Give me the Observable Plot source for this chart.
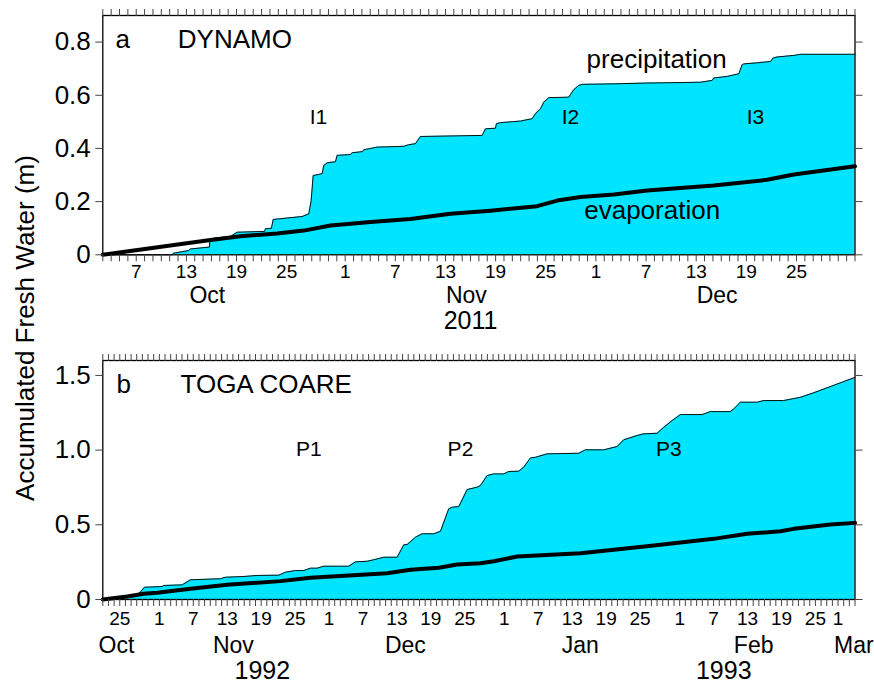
<!DOCTYPE html>
<html><head><meta charset="utf-8">
<script src="https://cdn.jsdelivr.net/npm/d3@7"></script>
<script src="https://cdn.jsdelivr.net/npm/@observablehq/plot@0.6"></script>
<style>
body{margin:0;background:#fff;}
#wrap{position:relative;width:874px;height:685px;font-family:"Liberation Sans",Arial,sans-serif;overflow:hidden;}
#pa{position:absolute;left:0;top:0;}
#pb{position:absolute;left:0;top:340px;}
#ylab{position:absolute;left:-175px;top:313px;width:400px;height:30px;line-height:30px;text-align:center;font-size:26px;transform:rotate(-90deg);color:#000;white-space:nowrap;}
</style></head>
<body><div id="wrap"><div id="pa"></div><div id="pb"></div><div id="ylab">Accumulated Fresh Water (m)</div></div>
<script>
// ---------- shared tick labels ----------
const dayLabels = [1, 7, 13, 19, 25];

// ---------- Panel a: DYNAMO (days since 2011-10-01 00 UTC) ----------
const precipDayA = [2.0, 10.30, 10.46, 12.29, 12.49, 14.77, 14.80, 15.21, 17.28, 18.08, 21.35, 21.47, 22.18, 22.39,
  25.86, 26.65, 26.93, 27.17, 28.25, 28.44, 28.85, 29.84, 30.04, 31.64, 31.84, 33.07, 33.23, 34.83, 38.01, 38.61,
  39.41, 40.01, 47.39, 47.79, 48.98, 49.10, 49.58, 51.98, 53.38, 53.77, 54.37, 54.76, 55.36, 57.75, 57.96, 58.35,
  58.95, 59.36, 63.14, 67.14, 73.51, 74.91, 75.10, 76.71, 78.10, 78.50, 78.69, 80.30, 81.89, 82.21, 82.69, 84.68,
  85.48, 92.0];
const precipA = [0, 0, 0.006, 0.016, 0.022, 0.029, 0.056, 0.062, 0.069, 0.085, 0.088, 0.098, 0.100, 0.133,
  0.144, 0.154, 0.204, 0.298, 0.305, 0.336, 0.346, 0.350, 0.374, 0.377, 0.384, 0.388, 0.395, 0.405, 0.408, 0.414,
  0.418, 0.445, 0.449, 0.474, 0.476, 0.493, 0.497, 0.503, 0.512, 0.531, 0.549, 0.574, 0.591, 0.593, 0.603, 0.621,
  0.637, 0.641, 0.643, 0.646, 0.649, 0.656, 0.665, 0.671, 0.681, 0.715, 0.718, 0.722, 0.727, 0.740, 0.744, 0.750,
  0.754, 0.754];
const evapDayA = [2.0, 12.49, 14.89, 18.47, 22.87, 26.05, 29.24, 34.03, 38.82, 43.60, 48.39, 53.97, 56.37, 59.16,
  63.14, 67.14, 75.10, 81.49, 84.68, 92.0];
const evapA = [0, 0.045, 0.056, 0.070, 0.080, 0.091, 0.110, 0.123, 0.135, 0.154, 0.166, 0.183, 0.204, 0.217,
  0.227, 0.242, 0.261, 0.282, 0.302, 0.333];
const yTicksA = [0, 0.2, 0.4, 0.6, 0.8];
const yTickLabelsA = ["0", "0.2", "0.4", "0.6", "0.8"];
const monthsA = ["Oct", "Nov", "Dec"];
const monthDatesA = ["2011-10-15T12:00Z", "2011-11-15T12:00Z", "2011-12-15T12:00Z"];
const yearsA = ["2011"];
const yearDatesA = ["2011-11-16T00:00Z"];
const eventsA = ["I1", "I2", "I3"];
const eventDaysA = [27.81, 57.96, 80.09];

// ---------- Panel b: TOGA COARE (days since 1992-10-22 00 UTC) ----------
const precipDayB = [0, 3.71, 6.36, 7.37, 10.50, 10.79, 14.04, 15.51, 20.81, 21.69, 24.93, 27.30, 31.12, 32.30,
  34.07, 35.54, 36.72, 37.91, 39.07, 43.49, 44.68, 46.75, 47.91, 49.68, 52.05, 53.22, 53.82, 55.29, 56.47, 58.52,
  59.71, 61.17, 61.78, 62.94, 64.43, 66.19, 66.78, 67.96, 69.13, 70.90, 71.78, 73.55, 74.43, 75.62, 76.50, 78.57,
  84.16, 85.34, 88.58, 90.95, 92.11, 94.48, 95.65, 98.02, 99.19, 100.67, 102.14, 105.98, 107.44, 110.98, 111.56,
  112.75, 115.70, 116.87, 120.40, 123.36, 125.71, 133.0];
const precipB = [0, 0.015, 0.038, 0.082, 0.087, 0.094, 0.098, 0.132, 0.139, 0.149, 0.154, 0.161, 0.163, 0.183,
  0.194, 0.194, 0.210, 0.210, 0.223, 0.223, 0.252, 0.256, 0.266, 0.283, 0.283, 0.366, 0.368, 0.417, 0.440, 0.440,
  0.457, 0.607, 0.618, 0.622, 0.736, 0.752, 0.763, 0.830, 0.841, 0.841, 0.857, 0.859, 0.886, 0.948, 0.952, 0.975,
  0.979, 1.002, 1.002, 1.024, 1.069, 1.098, 1.109, 1.113, 1.153, 1.198, 1.238, 1.238, 1.258, 1.258, 1.276,
  1.321, 1.321, 1.332, 1.332, 1.354, 1.384, 1.487];
const evapDayB = [0, 4.31, 7.25, 9.62, 15.51, 22.0, 31.42, 36.72, 50.28, 54.40, 59.41, 62.66, 66.78, 69.13, 73.27,
  84.46, 90.35, 97.42, 108.03, 113.93, 119.82, 122.17, 128.66, 133.0];
const evapB = [0, 0.020, 0.038, 0.045, 0.072, 0.098, 0.123, 0.145, 0.176, 0.199, 0.212, 0.234, 0.243, 0.256, 0.288,
  0.310, 0.333, 0.361, 0.406, 0.440, 0.457, 0.473, 0.502, 0.513];
const yTicksB = [0, 0.5, 1.0, 1.5];
const yTickLabelsB = ["0", "0.5", "1.0", "1.5"];
const monthsB = ["Oct", "Nov", "Dec", "Jan", "Feb", "Mar"];
const monthDatesB = ["1992-10-24T10:00Z", "1992-11-14T02:00Z", "1992-12-14T12:00Z", "1993-01-14T10:00Z", "1993-02-14T02:00Z", "1993-03-03T19:00Z"];
const yearsB = ["1992", "1993"];
const yearDatesB = ["1992-11-19T05:00Z", "1993-02-08T19:00Z"];
const eventsB = ["P1", "P2", "P3"];
const eventDaysB = [36.42, 63.24, 100.07];

const cyan = "#00E5FF";
const FONT = '"Liberation Sans", Arial, Helvetica, sans-serif';

function draw(o) {
  const toDate = d => new Date(o.base + d * 864e5);
  const P = o.pDays.map((d, i) => ({date: toDate(d), v: o.pVals[i]}));
  const E = o.eDays.map((d, i) => ({date: toDate(d), v: o.eVals[i]}));
  const days = d3.utcDay.range(o.start, d3.utcDay.offset(o.end, 1));
  const labelled = d3.utcDay.range(o.start, o.end).filter(d => dayLabels.includes(d.getUTCDate()));
  return Plot.plot({
    width: 874, height: o.height,
    marginTop: o.mt, marginBottom: o.mb, marginLeft: 102.3, marginRight: 19.5,
    style: {fontFamily: FONT, background: "transparent", overflow: "visible", color: "#000"},
    x: {type: "utc", domain: [o.start, o.end]},
    y: {domain: [0, o.yMax]},
    marks: [
      Plot.areaY(P, {x: "date", y: "v", fill: cyan}),
      Plot.lineY(P, {x: "date", y: "v", stroke: "#111", strokeWidth: 1}),
      Plot.lineY(E, {x: "date", y: "v", stroke: "#000", strokeWidth: 4}),
      Plot.frame({stroke: "#000", strokeWidth: 1.3}),
      Plot.axisX(days, {anchor: "bottom", tickSize: 7, tickFormat: () => "", stroke: "#444", label: null}),
      Plot.axisX(days, {anchor: "top", tickSize: 7, tickFormat: () => "", stroke: "#444", label: null}),
      Plot.axisY(o.yTicks, {anchor: "left", tickSize: 7, tickPadding: 5, fontSize: 26, stroke: "#444",
        tickFormat: d => o.yLabels[o.yTicks.indexOf(d)], label: null}),
      Plot.axisY(o.yTicks, {anchor: "right", tickSize: 7, tickFormat: () => "", stroke: "#444", label: null}),
      Plot.text(labelled, {x: d => d, text: d => String(d.getUTCDate()), frameAnchor: "bottom", lineAnchor: "middle", dy: o.dyDay, fontSize: 19}),
      Plot.text(o.months, {x: (d, i) => new Date(o.monthDates[i]), text: d => d, frameAnchor: "bottom", lineAnchor: "middle", dy: o.dyMonth, fontSize: 23}),
      Plot.text(o.years, {x: (d, i) => new Date(o.yearDates[i]), text: d => d, frameAnchor: "bottom", lineAnchor: "middle", dy: o.dyYear, fontSize: 25}),
      Plot.text([o.letter], {frameAnchor: "top-left", dx: o.letterDx, dy: 32.7, lineAnchor: "bottom", textAnchor: "start", fontSize: 26}),
      Plot.text([o.name], {frameAnchor: "top-left", dx: o.nameDx, dy: 32.7, lineAnchor: "bottom", textAnchor: "start", fontSize: 26}),
      Plot.text(o.events, {x: (d, i) => toDate(o.eventDays[i]), y: o.eventY, text: d => d, fontSize: 21}),
      ...o.extra(toDate)
    ]
  });
}

document.getElementById("pa").append(draw({
  base: Date.UTC(2011, 9, 1),
  start: new Date(Date.UTC(2011, 9, 3)), end: new Date(Date.UTC(2012, 0, 1)),
  pDays: precipDayA, pVals: precipA, eDays: evapDayA, eVals: evapA,
  yMax: 0.9, yTicks: yTicksA, yLabels: yTickLabelsA,
  height: 340, mt: 15, mb: 85.7,
  months: monthsA, monthDates: monthDatesA, years: yearsA, yearDates: yearDatesA,
  dyDay: 17, dyMonth: 41, dyYear: 66.5,
  letter: "a", letterDx: 12.7, name: "DYNAMO", nameDx: 75,
  events: eventsA, eventDays: eventDaysA, eventY: 0.518,
  extra: toDate => [
    Plot.text(["precipitation"], {x: toDate(68.27), y: 0.734, text: d => d, fontSize: 26}),
    Plot.text(["evaporation"], {x: toDate(67.73), y: 0.167, text: d => d, fontSize: 26})
  ]
}));

document.getElementById("pb").append(draw({
  base: Date.UTC(1992, 9, 22),
  start: new Date(Date.UTC(1992, 9, 22)), end: new Date(Date.UTC(1993, 2, 4)),
  pDays: precipDayB, pVals: precipB, eDays: evapDayB, eVals: evapB,
  yMax: 1.6, yTicks: yTicksB, yLabels: yTickLabelsB,
  height: 345, mt: 20, mb: 86,
  months: monthsB, monthDates: monthDatesB, years: yearsB, yearDates: yearDatesB,
  dyDay: 19.3, dyMonth: 46, dyYear: 71,
  letter: "b", letterDx: 13.7, name: "TOGA COARE", nameDx: 77.7,
  events: eventsB, eventDays: eventDaysB, eventY: 1.005,
  extra: () => []
}));
</script>
</body></html>
